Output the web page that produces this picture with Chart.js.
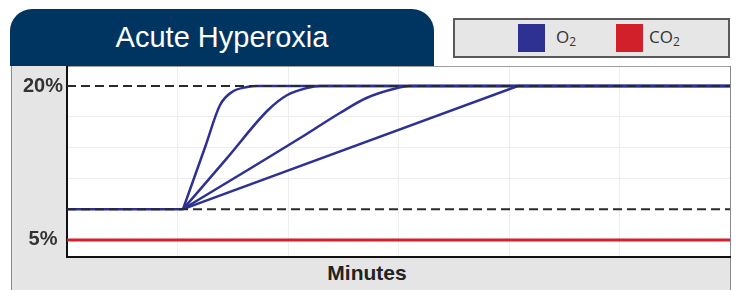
<!DOCTYPE html>
<html>
<head>
<meta charset="utf-8">
<script src="https://cdn.jsdelivr.net/npm/chart.js@4.4.0/dist/chart.umd.min.js"></script>
<style>
  body { margin:0; width:751px; height:290px; overflow:hidden; position:relative; background:#fff; font-family:"Liberation Sans", Arial, sans-serif; }
  .panel { position:absolute; left:11px; top:66px; width:718px; height:230px; background:#e5e5e5; border-left:1px solid #8a8a8a; border-right:1px solid #8a8a8a; }
  .plot { position:absolute; left:67px; top:66px; width:663px; height:191px; background:#fff; border-top:1px solid #a0a0a0; }
  .tab { position:absolute; left:10px; top:9px; width:424px; height:57px; background:#003562; border-radius:22px 22px 0 0; }
  .tab span { position:absolute; left:0; right:0; top:12px; text-align:center; color:#fff; font-size:29px; line-height:32px; }
  .legend { position:absolute; left:453px; top:18px; width:277px; height:40px; box-sizing:border-box; background:#e6e6e6; border:2px solid #5a5a5a; }
  .sw { position:absolute; top:24px; width:27px; height:28px; }
  .lt { position:absolute; top:27px; font-family:"Open Sans", sans-serif; font-size:17px; line-height:20px; color:#333; }
  .lt sub { font-size:12px; vertical-align:-3px; line-height:0; }
  .xt { position:absolute; left:267px; width:200px; top:261px; text-align:center; font-weight:bold; font-size:21px; line-height:24px; color:#222; }
  canvas { position:absolute; left:0; top:0; }
</style>
</head>
<body>
<div class="panel"></div>
<div class="plot"></div>
<div class="tab"><span>Acute Hyperoxia</span></div>
<div class="legend"></div>
<div class="sw" style="left:518px;background:#2e3192"></div>
<div class="lt" style="left:556px">O<sub>2</sub></div>
<div class="sw" style="left:616px;background:#d2202a"></div>
<div class="lt" style="left:649px">CO<sub>2</sub></div>
<div class="xt">Minutes</div>
<canvas id="myCanvas" width="751" height="290"></canvas>
<script>
// minutes / percent
var baseTime = [0, 1.05];
var baseO2 = [8, 8];
var fastTime = [1.05, 1.25, 1.385, 1.49, 1.63, 1.72, 6];
var fastO2 = [8, 14.06, 18.15, 19.4, 19.9, 20, 20];
var midTime = [1.05, 1.45, 1.82, 1.99, 2.17, 2.29, 6];
var midO2 = [8, 13.0, 17.66, 19.1, 19.8, 20, 20];
var slowTime = [1.05, 2.11, 2.47, 2.71, 2.99, 3.1, 6];
var slowO2 = [8, 14.93, 17.37, 18.83, 19.8, 20, 20];
var linTime = [1.05, 4.08, 6];
var linO2 = [8, 20, 20];
var co2Time = [0, 6];
var co2 = [5, 5];
var refTime = [0, 6];
var refHigh = [20, 20];
var refLow = [8, 8];
var yTicks = [5, 8, 11, 14, 17, 20];
var yLabels = {5: '5%', 20: '20%'};

function pts(xs, ys){
  var out = [];
  for (var i in xs){ out.push({x: xs[i], y: ys[i]}); }
  return out;
}

var blue = '#2e3192';
function o2set(xs, ys, mono){
  return {
    data: pts(xs, ys),
    borderColor: blue,
    borderWidth: 2.5,
    pointRadius: 0,
    tension: 0,
    cubicInterpolationMode: mono ? 'monotone' : 'default',
    order: 1
  };
}
function dashset(ys){
  return { data: pts(refTime, ys), borderColor: '#2a2a2a', borderWidth: 2, borderDash: [9, 5], pointRadius: 0, order: 0 };
}

var ctx = document.getElementById('myCanvas');
new Chart(ctx, {
  type: 'line',
  data: {
    datasets: [
      dashset(refHigh),
      dashset(refLow),
      o2set(baseTime, baseO2, false),
      o2set(fastTime, fastO2, true),
      o2set(midTime, midO2, true),
      o2set(slowTime, slowO2, true),
      o2set(linTime, linO2, false),
      { data: pts(co2Time, co2), borderColor: '#d2202a', borderWidth: 3, pointRadius: 0, order: 2 }
    ]
  },
  options: {
    responsive: false,
    animation: false,
    devicePixelRatio: 1,
    layout: { padding: { left: 17, right: 21, top: 67, bottom: 0 } },
    plugins: { legend: { display: false }, tooltip: { enabled: false } },
    scales: {
      x: {
        type: 'linear', min: 0, max: 6,
        ticks: { display: false, stepSize: 1 },
        grid: {
          drawTicks: false,
          color: function(c){ return (c.tick && (c.tick.value === 0 || c.tick.value === 6)) ? 'rgba(0,0,0,0)' : '#ededed'; }
        },
        border: { color: '#111', width: 2 },
        afterFit: function(s){ s.height = 33; }
      },
      y: {
        type: 'linear', min: 3.34, max: 21.85,
        afterBuildTicks: function(s){ s.ticks = yTicks.map(function(v){ return {value: v}; }); },
        ticks: {
          padding: 4,
          crossAlign: 'center',
          color: '#333',
          font: { family: 'Liberation Sans', size: 20, weight: 'bold' },
          callback: function(v){ return yLabels[v] || ''; }
        },
        grid: {
          drawTicks: false,
          color: function(c){ return (c.tick && (c.tick.value === 8 || c.tick.value === 20)) ? 'rgba(0,0,0,0)' : '#ededed'; }
        },
        border: { color: '#111', width: 2 },
        afterFit: function(s){ s.width = 50; }
      }
    }
  }
});
</script>
</body>
</html>
